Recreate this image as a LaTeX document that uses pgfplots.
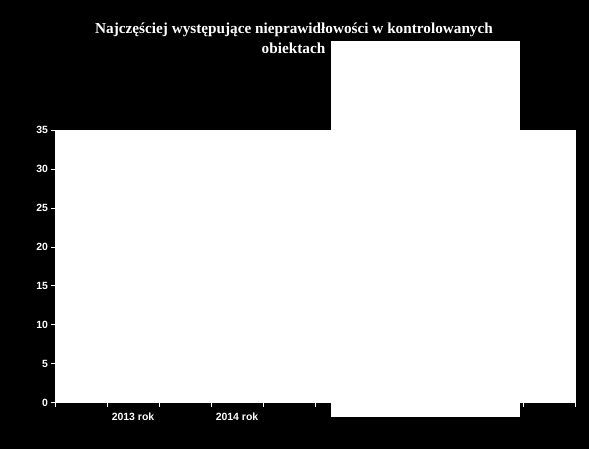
\documentclass[border=0pt]{standalone}
\usepackage{fontspec}
\setmainfont{Liberation Sans}
\newfontfamily\titlefont{Liberation Serif}
\usepackage{pgfplots}
\pgfplotsset{compat=1.18}
\begin{document}
\begin{tikzpicture}[x=1bp,y=1bp]
	\fill[black] (0,0) rectangle (589,449);
	\begin{axis}[
	at={(55bp,46.3bp)}, anchor=south west,
	width=520bp, height=272.7bp, scale only axis,
	axis background/.style={fill=white},
	axis line style={white},
	xmin=-0.5, xmax=9.5, ymin=0, ymax=35,
	ytick={0,5,10,15,20,25,30,35},
	xtick={-0.5,0.5,1.5,2.5,3.5,4.5,5.5,6.5,7.5,8.5,9.5},
	xticklabels={},
	extra x ticks={1,3},
	extra x tick labels={2013 rok,2014 rok},
	extra x tick style={major tick length=0pt, tick label style={yshift=-7bp}},
	xtick pos=left, ytick pos=left,
	tick align=outside, major tick length=4.5bp,
	tick style={white, line width=0.7pt},
	ticklabel style={white, font=\bfseries\fontsize{10.5}{12}\selectfont},
	yticklabel style={xshift=1bp},
	/pgf/number format/assume math mode=true,
	]
	\end{axis}
	% legend box (empty)
	\fill[white] (331,32.3) rectangle (520,408);
	\node[white, anchor=base, inner sep=0pt, font=\titlefont\bfseries\fontsize{15.3}{18}\selectfont]
		at (294,415) {Najczęściej występujące nieprawidłowości w kontrolowanych};
	\node[white, anchor=base, inner sep=0pt, font=\titlefont\bfseries\fontsize{15.3}{18}\selectfont]
		at (293.5,395) {obiektach};
\end{tikzpicture}
\end{document}
